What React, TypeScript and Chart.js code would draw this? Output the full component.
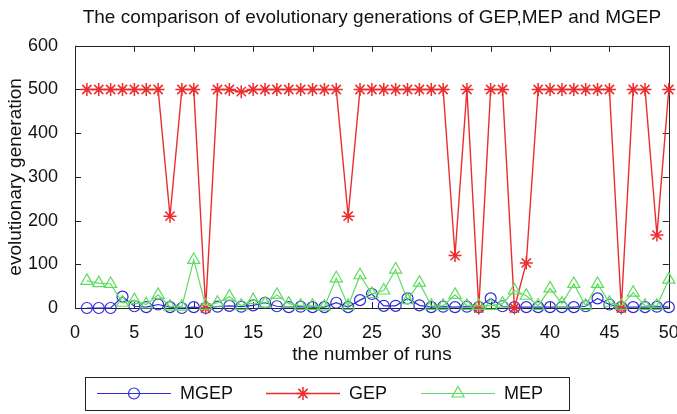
import React, { useEffect, useRef } from 'react';
import { Chart, registerables } from 'chart.js';

Chart.register(...registerables);

const runs = [1, 2, 3, 4, 5, 6, 7, 8, 9, 10, 11, 12, 13, 14, 15, 16, 17, 18, 19, 20, 21, 22, 23, 24, 25, 26, 27, 28, 29, 30, 31, 32, 33, 34, 35, 36, 37, 38, 39, 40, 41, 42, 43, 44, 45, 46, 47, 48, 49, 50];

const mgep = [0, 0, 0, 26, 4, 2, 8, 2, 0, 2, 0, 3, 5, 3, 6, 12, 4, 2, 3, 2, 2, 12, 2, 18, 32, 5, 5, 22, 6, 2, 3, 2, 3, 2, 22, 4, 2, 2, 2, 2, 2, 2, 4, 22, 8, 2, 2, 2, 3, 2];

const gep = [500, 500, 500, 500, 500, 500, 500, 210, 500, 500, 0, 500, 500, 495, 500, 500, 500, 500, 500, 500, 500, 500, 210, 500, 500, 500, 500, 500, 500, 500, 500, 120, 500, 0, 500, 500, 0, 103, 500, 500, 500, 500, 500, 500, 500, 0, 500, 500, 167, 500];

const mep = [62, 57, 55, 12, 18, 8, 30, 3, 3, 110, 5, 12, 26, 5, 18, 10, 30, 10, 5, 5, 3, 68, 5, 75, 32, 40, 88, 18, 58, 5, 5, 30, 5, 5, 5, 10, 40, 28, 5, 45, 10, 55, 5, 55, 12, 5, 35, 5, 5, 65];

const seriesNames = ['MGEP', 'GEP', 'MEP'];
const chartTitle = 'The comparison of evolutionary generations of GEP,MEP and MGEP';
const xTitle = 'the number of runs';
const yTitle = 'evolutionary generation';

const FONT = '"Liberation Sans", Arial, Helvetica, sans-serif';
const BLUE = 'rgb(45,45,215)';
const RED = 'rgb(235,45,45)';
const GREEN = 'rgb(95,220,95)';

function drawMarker(ctx: CanvasRenderingContext2D, style: string, x: number, y: number, r: number) {
  ctx.beginPath();
  if (style === 'circle') {
    ctx.arc(x, y, r, 0, Math.PI * 2);
  } else if (style === 'star') {
    ctx.moveTo(x - r, y); ctx.lineTo(x + r, y);
    ctx.moveTo(x, y - r); ctx.lineTo(x, y + r);
    const d = r * Math.SQRT1_2;
    ctx.moveTo(x - d, y - d); ctx.lineTo(x + d, y + d);
    ctx.moveTo(x - d, y + d); ctx.lineTo(x + d, y - d);
  } else if (style === 'triangle') {
    ctx.moveTo(x, y - r);
    ctx.lineTo(x + r * 0.866, y + r * 0.5);
    ctx.lineTo(x - r * 0.866, y + r * 0.5);
    ctx.closePath();
  }
  ctx.stroke();
}

const framePlugin = {
  id: 'matlabFrame',
  beforeDatasetsDraw(chart: any) {
    const { ctx, chartArea } = chart;
    const { left, right, top, bottom } = chartArea;
    ctx.save();
    ctx.strokeStyle = '#222';
    ctx.lineWidth = 1;
    ctx.strokeRect(Math.round(left) + 0.5, Math.round(top) + 0.5, Math.round(right - left), Math.round(bottom - top));
    const tl = 6;
    ctx.beginPath();
    chart.scales.x.ticks.forEach((t: any) => {
      const px = Math.round(chart.scales.x.getPixelForValue(t.value)) + 0.5;
      ctx.moveTo(px, bottom); ctx.lineTo(px, bottom - tl);
      ctx.moveTo(px, top); ctx.lineTo(px, top + tl);
    });
    chart.scales.y.ticks.forEach((t: any) => {
      const py = Math.round(chart.scales.y.getPixelForValue(t.value)) + 0.5;
      ctx.moveTo(left, py); ctx.lineTo(left + tl, py);
      ctx.moveTo(right, py); ctx.lineTo(right - tl, py);
    });
    ctx.stroke();
    ctx.restore();
  },
};

const legendPlugin = {
  id: 'boxLegend',
  afterDraw(chart: any) {
    const { ctx } = chart;
    const boxL = 85, boxT = 377, boxR = 569, boxB = 410;
    const cy = (boxT + boxB) / 2;
    ctx.save();
    ctx.fillStyle = '#fff';
    ctx.fillRect(boxL, boxT, boxR - boxL, boxB - boxT);
    ctx.strokeStyle = '#222';
    ctx.lineWidth = 1;
    ctx.strokeRect(boxL + 0.5, boxT + 0.5, boxR - boxL, boxB - boxT);
    const starts = [97, 266, 421];
    const lineLen = 74;
    chart.data.datasets.forEach((ds: any, i: number) => {
      const x0 = starts[i];
      ctx.strokeStyle = ds.borderColor;
      ctx.lineWidth = ds.borderWidth;
      ctx.beginPath();
      ctx.moveTo(x0, cy); ctx.lineTo(x0 + lineLen, cy);
      ctx.stroke();
      ctx.lineWidth = ds.pointBorderWidth;
      drawMarker(ctx, ds.pointStyle, x0 + lineLen / 2, cy, ds.pointRadius);
      ctx.fillStyle = '#111';
      ctx.font = `18px ${FONT}`;
      ctx.textBaseline = 'middle';
      ctx.textAlign = 'left';
      ctx.fillText(ds.label, x0 + lineLen + 9, cy + 1);
    });
    ctx.restore();
  },
};

export default function App() {
  const ref = useRef<HTMLCanvasElement | null>(null);

  useEffect(() => {
    if (!ref.current) return;
    const mk = (vals: number[]) => runs.map((r, i) => ({ x: r, y: vals[i] }));
    const chart = new Chart(ref.current, {
      type: 'line',
      data: {
        datasets: [
          {
            label: seriesNames[0], data: mk(mgep), borderColor: BLUE, borderWidth: 1.2,
            pointStyle: 'circle', pointRadius: 5.5, pointBorderColor: BLUE, pointBackgroundColor: 'rgba(0,0,0,0)',
            pointBorderWidth: 1.2, tension: 0, clip: false as any, order: 3,
          },
          {
            label: seriesNames[1], data: mk(gep), borderColor: RED, borderWidth: 1.4,
            pointStyle: 'star', pointRadius: 6.5, pointBorderColor: RED, pointBackgroundColor: RED,
            pointBorderWidth: 1.5, tension: 0, clip: false as any, order: 2,
          },
          {
            label: seriesNames[2], data: mk(mep), borderColor: GREEN, borderWidth: 1.2,
            pointStyle: 'triangle', pointRadius: 7, pointBorderColor: GREEN, pointBackgroundColor: 'rgba(0,0,0,0)',
            pointBorderWidth: 1.2, tension: 0, clip: false as any, order: 1,
          },
        ],
      },
      options: {
        animation: false,
        responsive: false,
        events: [],
        layout: { padding: { left: 0, right: 7, top: 0, bottom: 46 } },
        plugins: {
          legend: { display: false },
          tooltip: { enabled: false },
          title: {
            display: true,
            text: chartTitle,
            fullSize: false,
            color: '#111',
            font: { family: FONT, size: 19, weight: 'normal' as any },
            padding: { top: 6, bottom: 17 },
          },
        },
        scales: {
          x: {
            type: 'linear', min: 0, max: 50,
            grid: { display: false },
            border: { display: false },
            ticks: { stepSize: 5, color: '#111', padding: 6, font: { family: FONT, size: 18 }, maxRotation: 0 },
            title: { display: true, text: xTitle, color: '#111', font: { family: FONT, size: 19 }, padding: { top: 0, bottom: 2 } },
            afterFit: (s: any) => { s.height = 60; s.paddingLeft = 0; s.paddingRight = 0; },
          },
          y: {
            type: 'linear', min: 0, max: 600,
            grid: { display: false },
            border: { display: false },
            ticks: { stepSize: 100, color: '#111', padding: 9, font: { family: FONT, size: 18 } },
            title: { display: true, text: yTitle, color: '#111', font: { family: FONT, size: 19 }, padding: { top: 4, bottom: 0 } },
            afterFit: (s: any) => { s.width = 75; s.paddingTop = 0; s.paddingBottom = 0; },
          },
        },
      },
      plugins: [framePlugin, legendPlugin],
    });
    return () => chart.destroy();
  }, []);

  return (
    <div style={{ position: 'absolute', left: 0, top: 0, width: 677, height: 414, background: '#fff' }}>
      <canvas ref={ref} width={677} height={414} style={{ display: 'block' }} />
    </div>
  );
}
